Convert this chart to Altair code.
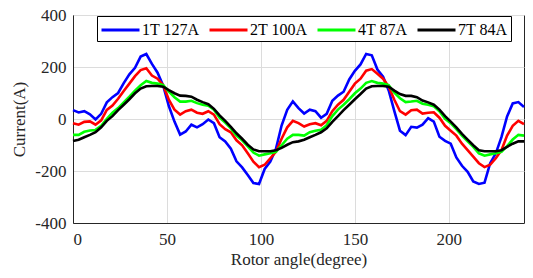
import altair as alt
import pandas as pd

angles = [i * 3 for i in range(81)]

t1 = [34, 25, 30, 18, -2, 20, 64, 84, 100, 138, 172, 197, 240, 250, 212, 178, 128,
      50, -10, -60, -48, -22, -32, -20, -2, -16, -70, -86, -114, -163, -186, -215,
      -246, -250, -192, -164, -115, -25, 35, 68, 42, 21, 36, 30, 5, 20, 70, 90, 105,
      152, 185, 210, 250, 245, 190, 163, 110, 30, -45, -62, -30, -33, -22, 3, -10,
      -68, -84, -95, -148, -180, -203, -240, -250, -245, -170, -132, -70, 10, 60, 65, 46]

t2 = [-16, -22, -11, -9, -22, -5, 35, 52, 78, 108, 136, 165, 188, 195, 167, 155, 130,
      74, 36, 17, 30, 36, 24, 20, 30, 17, -20, -39, -51, -82, -101, -132, -164, -185,
      -176, -151, -126, -76, -32, -7, -16, -29, -20, -16, -24, -7, 30, 55, 74, 105,
      136, 155, 186, 192, 174, 155, 124, 74, 30, 17, 34, 36, 21, 24, 26, 5, -26, -45,
      -64, -95, -120, -145, -170, -185, -176, -151, -120, -64, -26, -7, -20]

t4 = [-61, -61, -49, -44, -42, -26, 1, 24, 42, 64, 86, 109, 130, 146, 139, 136, 130,
      105, 84, 67, 67, 70, 61, 55, 51, 36, 5, -14, -36, -64, -82, -105, -129, -141,
      -136, -132, -126, -101, -76, -61, -61, -64, -51, -45, -41, -24, 11, 36, 55, 76,
      99, 117, 139, 146, 139, 136, 130, 101, 80, 65, 67, 70, 59, 55, 49, 30, 1, -16,
      -39, -64, -86, -107, -132, -141, -136, -132, -126, -104, -79, -61, -64]

t7 = [-85, -80, -70, -61, -51, -32, -7, 11, 34, 55, 76, 99, 117, 126, 127, 127, 124,
      111, 99, 90, 89, 86, 74, 65, 57, 39, 14, -7, -30, -55, -76, -99, -117, -124,
      -124, -124, -120, -111, -99, -89, -86, -80, -70, -61, -51, -36, -11, 11, 34, 55,
      76, 96, 117, 126, 127, 127, 124, 109, 96, 89, 89, 84, 71, 64, 55, 36, 11, -10,
      -32, -57, -79, -101, -120, -124, -124, -124, -120, -107, -95, -86, -86]

names = ["1T 127A", "2T 100A", "4T 87A", "7T 84A"]
colors = ["#0000FF", "#FF0000", "#00FF00", "#000000"]
series = [t1, t2, t4, t7]

rows = []
for k, (name, vals) in enumerate(zip(names, series)):
    for a, v in zip(angles, vals):
        rows.append({"angle": a, "current": v, "series": name, "k": k})
df = pd.DataFrame(rows)

FONT = "Times New Roman, Liberation Serif, serif"

chart = alt.Chart(df).mark_line(strokeWidth=2.6).encode(
    x=alt.X("angle:Q",
            scale=alt.Scale(domain=[0, 240], nice=False, zero=False),
            axis=alt.Axis(values=[0, 50, 100, 150, 200], title="Rotor angle(degree)",
                          labelPadding=8, titlePadding=4)),
    y=alt.Y("current:Q",
            scale=alt.Scale(domain=[-400, 400], nice=False),
            axis=alt.Axis(values=[-400, -200, 0, 200, 400], title="Current(A)",
                          labelPadding=7, titlePadding=6,
                          labelExpr="datum.value < 0 ? '-' + abs(datum.value) : '' + datum.value")),
    color=alt.Color("series:N",
                    scale=alt.Scale(domain=names, range=colors),
                    legend=alt.Legend(title=None, orient="none", direction="horizontal",
                                      columns=4, legendX=24, legendY=1,
                                      gridAlign="none",
                                      symbolType="M-1,0H3", symbolSize=361,
                                      symbolStrokeWidth=3, labelOffset=20,
                                      columnPadding=3, padding=3,
                                      strokeColor="#000000", fillColor="#FFFFFF",
                                      labelFont=FONT, labelFontSize=16,
                                      labelColor="#000000")),
    detail="k:O",
    order="angle:Q",
).properties(
    width=451, height=208,
    autosize=alt.AutoSizeParams(type="none"),
    padding={"left": 65, "top": 7, "right": 1, "bottom": 48},
).configure_view(
    stroke="#262626", strokeWidth=1
).configure_axis(
    labelFont=FONT, titleFont=FONT, labelFontSize=17, titleFontSize=17,
    titleFontWeight="normal", labelColor="#262626", titleColor="#262626",
    ticks=False, domainColor="#262626", gridColor="#DCDCDC", gridWidth=1,
)

chart.save("out.html", embed_options={"renderer": "svg", "actions": False})
